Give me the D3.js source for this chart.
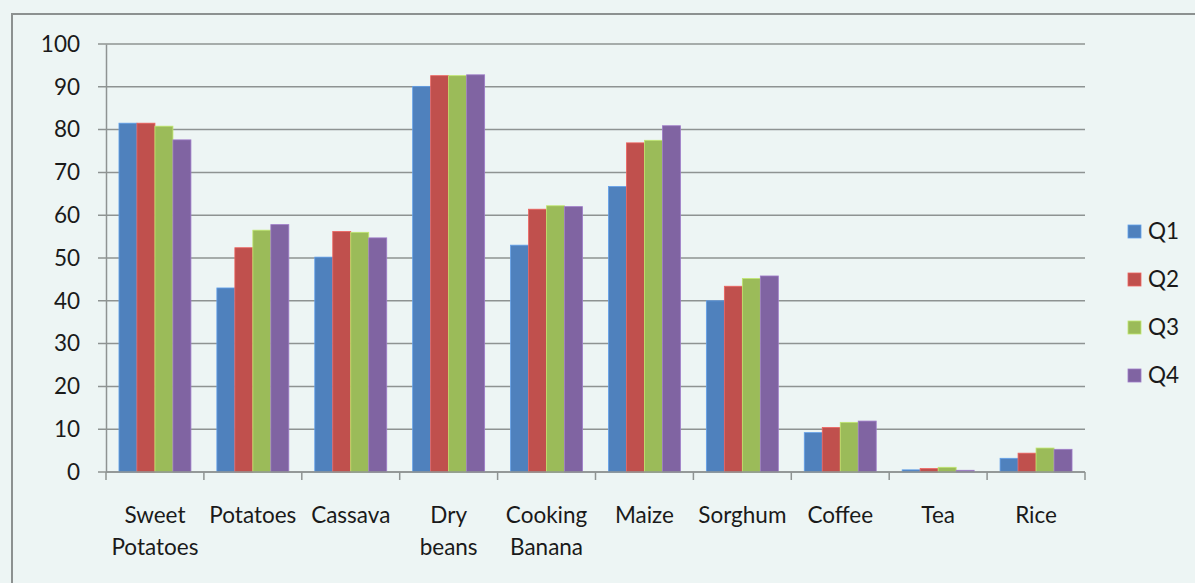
<!DOCTYPE html>
<html><head><meta charset="utf-8">
<script src="https://cdn.jsdelivr.net/npm/d3@7"></script>
<style>html,body{margin:0;padding:0;background:#edf5f4;overflow:hidden}</style>
</head><body>
<svg id="c" width="1195" height="583"></svg>
<script>
const categories = ["Sweet Potatoes","Potatoes","Cassava","Dry beans","Cooking Banana","Maize","Sorghum","Coffee","Tea","Rice"];
const seriesNames = ["Q1","Q2","Q3","Q4"];
const q1 = [81.5, 43.0, 50.2, 90.1, 53.0, 66.7, 40.0, 9.2, 0.5, 3.2];
const q2 = [81.5, 52.4, 56.2, 92.6, 61.4, 76.9, 43.4, 10.4, 0.8, 4.4];
const q3 = [80.8, 56.5, 56.0, 92.6, 62.2, 77.5, 45.2, 11.6, 1.1, 5.6];
const q4 = [77.6, 57.8, 54.7, 92.8, 62.0, 80.9, 45.8, 11.9, 0.4, 5.3];
const yTicks = [0,10,20,30,40,50,60,70,80,90,100];
const colors = ["#4f81bd","#c0504d","#9bbb59","#8064a2"];

(function(){
const series = [q1,q2,q3,q4];
const svg = d3.select("#c");
const font = "Lato, 'Open Sans', sans-serif";
const fs = 22.5;

svg.append("rect").attr("x",12).attr("y",14).attr("width",1200).attr("height",600)
  .attr("fill","#edf5f4").attr("stroke","#8c9190").attr("stroke-width",2);

const pl=106, pr=1085, pt=44, pb=472;
const x = d3.scaleBand().domain(categories).range([pl,pr]).paddingInner(0.265).paddingOuter(0.1325);
const x1 = d3.scaleBand().domain(seriesNames).range([0,x.bandwidth()]);
const y = d3.scaleLinear().domain([0,100]).range([pb,pt]);

// gridlines
svg.append("g").selectAll("line").data(yTicks).join("line")
  .attr("x1",pl-8).attr("x2",pr).attr("y1",d=>y(d)).attr("y2",d=>y(d))
  .attr("stroke","#8e9392").attr("stroke-width",1.5);

// y axis
const yAxis = d3.axisLeft(y).tickValues(yTicks).tickSize(0).tickPadding(26);
const gy = svg.append("g").attr("transform",`translate(${pl},0)`).call(yAxis);
gy.select(".domain").attr("stroke","#8e9392").attr("stroke-width",1.5);
gy.selectAll("text").attr("font-family",font).attr("font-size",fs).attr("fill","#1a1a1a");

// bars
const groups = svg.append("g").selectAll("g").data(categories).join("g")
  .attr("transform",c=>`translate(${x(c)},0)`);
groups.selectAll("rect").data((c,i)=>series.map((s,j)=>({k:seriesNames[j],v:s[i],j}))).join("rect")
  .attr("x",d=>x1(d.k)).attr("width",x1.bandwidth())
  .attr("y",d=>y(d.v)).attr("height",d=>y(0)-y(d.v))
  .attr("fill",d=>colors[d.j]).attr("stroke",d=>d3.color(colors[d.j]).brighter(0.6)).attr("stroke-width",0.8);

// x axis
const step = x.step();
const xAxisG = svg.append("g").attr("transform",`translate(0,${pb})`);
xAxisG.append("line").attr("x1",pl).attr("x2",pr).attr("stroke","#8e9392").attr("stroke-width",1.5);
const tickPos = d3.range(categories.length+1).map(i=>pl+i*step);
xAxisG.selectAll("line.t").data(tickPos).join("line").attr("class","t")
  .attr("x1",d=>d).attr("x2",d=>d).attr("y1",0).attr("y2",8)
  .attr("stroke","#8e9392").attr("stroke-width",1.5);
const labels = xAxisG.selectAll("text").data(categories).join("text")
  .attr("x",c=>x(c)+x.bandwidth()/2).attr("y",51)
  .attr("text-anchor","middle").attr("font-family",font).attr("font-size",fs).attr("fill","#1a1a1a");
labels.each(function(c){
  const words = c.split(" ");
  const t = d3.select(this);
  words.forEach((w,i)=>t.append("tspan").attr("x",x(c)+x.bandwidth()/2).attr("dy",i===0?0:32).text(w));
});

// legend
const lg = svg.append("g").selectAll("g").data(seriesNames).join("g")
  .attr("transform",(d,i)=>`translate(1128,${231+i*48})`);
lg.append("rect").attr("x",0).attr("y",-6).attr("width",13).attr("height",13)
  .attr("fill",(d,i)=>colors[i]).attr("stroke",(d,i)=>d3.color(colors[i]).brighter(0.6)).attr("stroke-width",0.8);
lg.append("text").attr("x",20).attr("y",0).attr("dy","0.36em").attr("font-family",font).attr("font-size",fs).attr("fill","#1a1a1a").text(d=>d);
})();
</script>
</body></html>
